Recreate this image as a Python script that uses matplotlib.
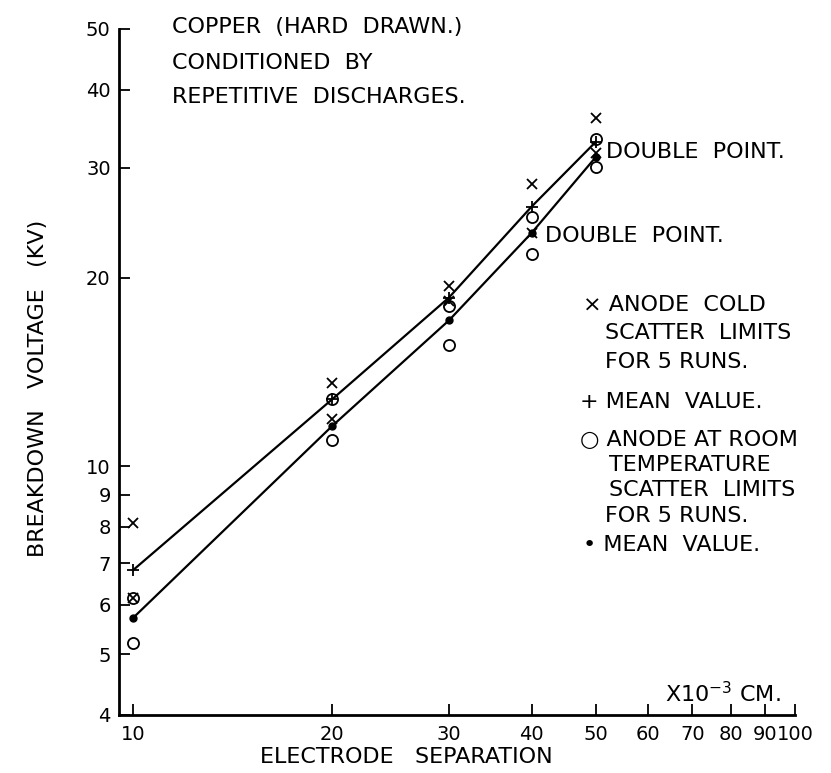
import matplotlib
matplotlib.use("Agg")
import matplotlib.pyplot as plt
from matplotlib.ticker import FixedLocator, FixedFormatter, NullLocator

plt.rcParams['font.family'] = ['DejaVu Sans']

# ---- data (electrode separation in 1e-3 cm, breakdown voltage in kV) ----
separation = [10, 20, 30, 40, 50]

cold_mean = [6.82, 12.8, 18.6, 26.0, 33.0]
cold_scatter_hi = [8.1, 13.6, 19.4, 28.3, 36.0]
cold_scatter_lo = [6.15, 11.9, 18.4, 23.6, 31.7]

room_mean = [5.72, 11.6, 17.1, 23.6, 31.2]
room_scatter_hi = [6.15, 12.8, 18.0, 25.0, 33.3]
room_scatter_lo = [5.22, 11.0, 15.6, 21.8, 30.1]

x_ticks = [10, 20, 30, 40, 50, 60, 70, 80, 90, 100]
x_tick_labels = ["10", "20", "30", "40", "50", "60", "70", "80", "90", "100"]
y_ticks = [4, 5, 6, 7, 8, 9, 10, 20, 30, 40, 50]
y_tick_labels = ["4", "5", "6", "7", "8", "9", "10", "20", "30", "40", "50"]

W, H = 831, 773
fig = plt.figure(figsize=(W / 100, H / 100), dpi=100)
ax = fig.add_axes([119 / W, (H - 715) / H, (795 - 119) / W, (715 - 29) / H])

ax.set_xscale('log')
ax.set_yscale('log')
ax.set_xlim(9.52, 100)
ax.set_ylim(4, 50)

# lines through the mean values
ax.plot(separation, cold_mean, color='black', lw=1.6, zorder=2)
ax.plot(separation, room_mean, color='black', lw=1.6, zorder=2)

# markers
ax.plot(separation, cold_scatter_hi, 'x', color='black', ms=7, mew=1.3, ls='none', zorder=3)
ax.plot(separation, cold_scatter_lo, 'x', color='black', ms=7, mew=1.3, ls='none', zorder=3)
ax.plot(separation, cold_mean, '+', color='black', ms=9, mew=1.3, ls='none', zorder=3)
ax.plot(separation, room_scatter_hi, 'o', mfc='none', mec='black', ms=8, mew=1.3, ls='none', zorder=3)
ax.plot(separation, room_scatter_lo, 'o', mfc='none', mec='black', ms=8, mew=1.3, ls='none', zorder=3)
ax.plot(separation, room_mean, 'o', color='black', ms=5, ls='none', zorder=3)

# spines
for s in ['top', 'right']:
    ax.spines[s].set_visible(False)
for s in ['left', 'bottom']:
    ax.spines[s].set_linewidth(2.0)

ax.xaxis.set_major_locator(FixedLocator(x_ticks))
ax.xaxis.set_major_formatter(FixedFormatter(x_tick_labels))
ax.xaxis.set_minor_locator(NullLocator())
ax.yaxis.set_major_locator(FixedLocator(y_ticks))
ax.yaxis.set_major_formatter(FixedFormatter(y_tick_labels))
ax.yaxis.set_minor_locator(NullLocator())
ax.tick_params(axis='both', direction='in', length=8, width=1.3, labelsize=14, pad=6)
ax.tick_params(axis='x', pad=7)

txt = dict(fontsize=16, color='black', va='center', ha='left')

def ftext(px, py, s, **kw):
    d = dict(txt)
    d.update(kw)
    fig.text(px / W, 1 - py / H, s, **d)

ftext(172, 27, "COPPER  (HARD  DRAWN.)")
ftext(172, 63, "CONDITIONED  BY")
ftext(172, 97, "REPETITIVE  DISCHARGES.")

ftext(606, 152, "DOUBLE  POINT.")
ftext(545, 236, "DOUBLE  POINT.")

ftext(583, 305, "× ANODE  COLD")
ftext(605, 333, "SCATTER  LIMITS")
ftext(605, 362, "FOR 5 RUNS.")
ftext(580, 402, "+ MEAN  VALUE.")
ftext(580, 440, "○ ANODE AT ROOM")
ftext(609, 465, "TEMPERATURE")
ftext(609, 490, "SCATTER  LIMITS")
ftext(605, 516, "FOR 5 RUNS.")
ftext(583, 545, "• MEAN  VALUE.")

ftext(665, 694, r"X10$^{-3}$ CM.")

ftext(406, 757, "ELECTRODE   SEPARATION", ha='center')
ftext(38, 388, "BREAKDOWN   VOLTAGE   (KV)", ha='center', rotation=90)

fig.savefig("out.png", dpi=100)
